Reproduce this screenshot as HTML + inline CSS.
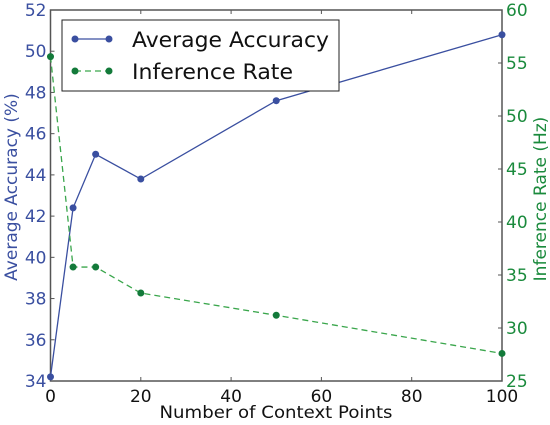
<!DOCTYPE html>
<html><head><meta charset="utf-8"><style>
body{margin:0;background:#fff;position:relative;}
svg{display:block;font-family:"DejaVu Sans","Liberation Sans",sans-serif;}
</style></head><body>
<svg id="chart" width="550" height="425"></svg>
<script>
const xValues=[0,5,10,20,50,100];
const accuracy=[34.2,42.4,45.0,43.8,47.6,50.8];
const rate=[55.6,35.75,35.75,33.3,31.2,27.6];
const xTicks=[0,20,40,60,80,100];
const yLeftTicks=[34,36,38,40,42,44,46,48,50,52];
const yRightTicks=[25,30,35,40,45,50,55,60];
const L=50.5,R=502,T=10,B=381;
const X=v=>L+(v-0)/100*(R-L);
const YL=v=>B-(v-34)/18*(B-T);
const YR=v=>B-(v-25)/35*(B-T);
const svg=document.getElementById('chart');
const NS='http://www.w3.org/2000/svg';
function mk(tag,attrs,parent){const e=document.createElementNS(NS,tag);for(const k in attrs)e.setAttribute(k,attrs[k]);(parent||svg).appendChild(e);return e;}
const blue='#3a4fa0',green='#1a8a3c';
xTicks.forEach(v=>{
  const g=mk('g',{});
  
  
  mk('line',{x1:X(v),x2:X(v),y1:B,y2:B-4,stroke:'#555'},g);
  mk('line',{x1:X(v),x2:X(v),y1:T,y2:T+4,stroke:'#555'},g);
  const t=mk('text',{x:X(v),y:B+21,'text-anchor':'middle','font-size':17,fill:'#111'},g);t.textContent=v;
});
yLeftTicks.forEach(v=>{
  const g=mk('g',{});
  
  
  mk('line',{x1:L,x2:L+4,y1:YL(v),y2:YL(v),stroke:'#555'},g);
  const t=mk('text',{x:L-4,y:YL(v)+6,'text-anchor':'end','font-size':17,fill:blue},g);t.textContent=v;
});
yRightTicks.forEach(v=>{
  const g=mk('g',{});
  
  
  mk('line',{x1:R,x2:R-4,y1:YR(v),y2:YR(v),stroke:'#555'},g);
  const t=mk('text',{x:R+4,y:YR(v)+6,'text-anchor':'start','font-size':17,fill:green},g);t.textContent=v;
});
const frame=mk('rect',{x:L,y:T,width:R-L,height:B-T,fill:'none',stroke:'#555','stroke-width':1.5});


const pa=mk('polyline',{points:xValues.map((x,i)=>X(x)+','+YL(accuracy[i])).join(' '),fill:'none',stroke:blue,'stroke-width':1.3});


const pr=mk('polyline',{points:xValues.map((x,i)=>X(x)+','+YR(rate[i])).join(' '),fill:'none',stroke:'#3aa64c','stroke-width':1.3,'stroke-dasharray':'6,4'});


xValues.forEach((x,i)=>{
  const c=mk('circle',{cx:X(x),cy:YL(accuracy[i]),r:3.5,fill:blue});
  
  
  const d=mk('circle',{cx:X(x),cy:YR(rate[i]),r:3.5,fill:'#137a3a'});
  
  
});
</script>
<svg width="550" height="425" style="position:absolute;left:0;top:0;">
<g>
<rect x="62" y="20" width="277" height="71" fill="#fff" stroke="#222" stroke-width="1"/>
<line x1="75" y1="39" x2="109" y2="39" stroke="#3a4fa0" stroke-width="1.3"/>
<circle cx="75" cy="39" r="3.5" fill="#3a4fa0"/><circle cx="109" cy="39" r="3.5" fill="#3a4fa0"/>
<text x="132" y="47" font-size="21" fill="#111" textLength="197" lengthAdjust="spacingAndGlyphs">Average Accuracy</text>
<line x1="75" y1="71" x2="109" y2="71" stroke="#3aa64c" stroke-width="1.3" stroke-dasharray="6,4"/>
<circle cx="75" cy="71" r="3.5" fill="#137a3a"/><circle cx="109" cy="71" r="3.5" fill="#137a3a"/>
<text x="132" y="79" font-size="21" fill="#111" textLength="161" lengthAdjust="spacingAndGlyphs">Inference Rate</text>
</g>
<text x="276" y="418" text-anchor="middle" font-size="17" fill="#111" textLength="233" lengthAdjust="spacingAndGlyphs">Number of Context Points</text>
<text transform="translate(17,187) rotate(-90)" text-anchor="middle" font-size="17" fill="#3a4fa0">Average Accuracy (%)</text>
<text transform="translate(546,199) rotate(-90)" text-anchor="middle" font-size="17" fill="#1a8a3c">Inference Rate (Hz)</text>
</svg>
</body></html>
